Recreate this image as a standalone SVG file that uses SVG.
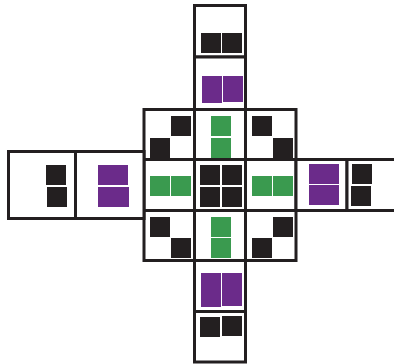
<svg xmlns="http://www.w3.org/2000/svg" width="394" height="364" viewBox="0 0 394 364">
<style>
.cell{fill:#fff;stroke:#231f20;stroke-width:3}
.k{fill:#231f20}
.g{fill:#3a9a4f}
.p{fill:#6b2b8a}
</style>
<rect width="394" height="364" fill="#fff"/>
<g id="top-outer"><rect class="cell" x="194.5" y="5.5" width="51" height="51.5"/>
<rect class="k" x="201" y="33" width="20" height="20"/><rect class="k" x="222" y="33" width="20" height="20"/></g>
<g id="top-inner"><rect class="cell" x="194.5" y="57" width="51" height="52.5"/>
<rect class="p" x="202" y="76" width="20" height="27"/><rect class="p" x="223" y="76" width="20" height="26"/></g>
<g id="grid-tl"><rect class="cell" x="144" y="109.5" width="50.5" height="50"/>
<rect class="k" x="171" y="116" width="20" height="20"/><rect class="k" x="150" y="138" width="20" height="20"/></g>
<g id="grid-tm"><rect class="cell" x="194.5" y="109.5" width="51" height="50"/>
<rect class="g" x="211" y="116" width="20" height="20"/><rect class="g" x="211" y="138" width="20" height="20"/></g>
<g id="grid-tr"><rect class="cell" x="245.5" y="109.5" width="50.5" height="50"/>
<rect class="k" x="252" y="116" width="20" height="20"/><rect class="k" x="273" y="138" width="20" height="20"/></g>
<g id="grid-ml"><rect class="cell" x="144" y="159.5" width="50.5" height="51"/>
<rect class="g" x="150" y="176" width="20" height="20"/><rect class="g" x="171" y="176" width="20" height="20"/></g>
<g id="grid-mm"><rect class="cell" x="194.5" y="159.5" width="51" height="51"/>
<rect class="k" x="200" y="165" width="20" height="20"/><rect class="k" x="222" y="165" width="20" height="20"/>
<rect class="k" x="200" y="187" width="20" height="20"/><rect class="k" x="222" y="187" width="20" height="20"/></g>
<g id="grid-mr"><rect class="cell" x="245.5" y="159.5" width="50.5" height="51"/>
<rect class="g" x="252" y="176" width="20" height="20"/><rect class="g" x="273" y="176" width="20" height="20"/></g>
<g id="grid-bl"><rect class="cell" x="144" y="210.5" width="50.5" height="50"/>
<rect class="k" x="150" y="217" width="20" height="20"/><rect class="k" x="171" y="238" width="20" height="20"/></g>
<g id="grid-bm"><rect class="cell" x="194.5" y="210.5" width="51" height="50"/>
<rect class="g" x="211" y="217" width="20" height="20"/><rect class="g" x="211" y="238" width="20" height="20"/></g>
<g id="grid-br"><rect class="cell" x="245.5" y="210.5" width="50.5" height="50"/>
<rect class="k" x="273" y="217" width="20" height="20"/><rect class="k" x="252" y="238" width="20" height="20"/></g>
<g id="bottom-inner"><rect class="cell" x="194.5" y="260.5" width="51" height="51"/>
<rect class="p" x="201" y="273" width="20" height="34"/><rect class="p" x="222" y="273" width="20" height="33"/></g>
<g id="bottom-outer"><rect class="cell" x="194.5" y="311.5" width="51" height="50.5"/>
<rect class="k" x="200" y="317" width="20" height="20"/><rect class="k" x="222" y="316" width="20" height="20"/></g>
<g id="left-outer"><rect class="cell" x="8.5" y="151.5" width="67" height="67"/>
<rect class="k" x="46" y="165" width="20" height="20"/><rect class="k" x="47" y="187" width="20" height="20"/></g>
<g id="left-inner"><rect class="cell" x="75.5" y="151.5" width="68.5" height="67"/>
<rect class="p" x="98" y="165" width="30" height="20"/><rect class="p" x="98" y="187" width="31" height="20"/></g>
<g id="right-inner"><rect class="cell" x="296" y="159.5" width="51" height="51"/>
<rect class="p" x="309" y="164" width="30" height="20"/><rect class="p" x="309" y="185" width="30" height="20"/></g>
<g id="right-outer"><rect class="cell" x="347" y="159.5" width="50" height="51"/>
<rect class="k" x="352" y="164" width="20" height="20"/><rect class="k" x="351" y="186" width="20" height="20"/></g>
<g id="connectors"></g>
</svg>
